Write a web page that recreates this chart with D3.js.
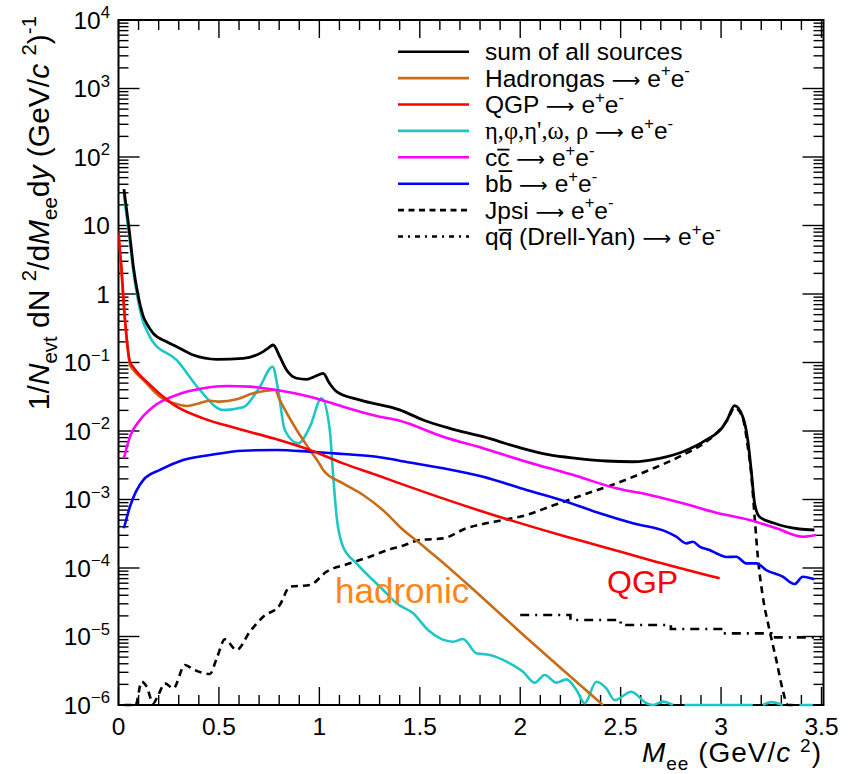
<!DOCTYPE html>
<html>
<head>
<meta charset="utf-8">
<script src="https://cdn.jsdelivr.net/npm/d3@7"></script>
<style>
  body { margin: 0; background: #fff; }
  svg { display: block; }
  text { font-family: "Liberation Sans", Arial, sans-serif; }
</style>
</head>
<body>
<svg id="chart" width="856" height="774"></svg>
<script>
// ---------- data (mass in GeV/c^2, yield per event) ----------
const sumMass = [0.027,0.057,0.074,0.099,0.124,0.14,0.173,0.24,0.29,0.372,0.489,0.621,0.72,0.745,0.77,0.803,0.837,0.887,0.936,0.98,1.019,1.05,1.086,1.2,1.4,1.517,1.649,1.815,1.981,2.147,2.28,2.429,2.561,2.694,2.81,2.926,3.009,3.034,3.067,3.108,3.133,3.15,3.167,3.191,3.258,3.39,3.465];
const sumVal  = [33.9,6.92,2.5,0.912,0.467,0.372,0.267,0.201,0.170,0.1285,0.1114,0.1151,0.1439,0.162,0.180,0.1216,0.0778,0.0589,0.0569,0.063,0.0695,0.050,0.0375,0.0284,0.0203,0.01449,0.01094,0.00826,0.0059,0.00447,0.00399,0.00365,0.00356,0.00399,0.00499,0.0074,0.01156,0.0153,0.0235,0.0162,0.0074,0.0027,0.000879,0.000561,0.000458,0.000371,0.000359];

const hadMass = [0.0,0.024,0.04,0.057,0.074,0.124,0.206,0.29,0.339,0.389,0.455,0.505,0.588,0.671,0.737,0.779,0.803,0.887,0.953,1.005,1.019,1.118,1.218,1.334,1.4,1.5,1.6,1.732,1.998,2.412];
const hadVal  = [7.6,0.871,0.229,0.0933,0.0778,0.0556,0.0317,0.0248,0.0232,0.0248,0.0277,0.0268,0.029,0.0355,0.0387,0.0397,0.0284,0.01035,0.00528,0.00316,0.0027,0.00172,0.001164,0.000628,0.000401,0.000229,0.000131,5.98e-5,1.175e-5,1.0e-6];

const qgpMass = [0.0,0.007,0.016,0.024,0.04,0.057,0.074,0.157,0.29,0.422,0.588,0.77,0.953,1.118,1.285,1.4,1.815,2.23,2.396,2.644,2.993];
const qgpVal  = [8.11,4.39,2.24,0.912,0.238,0.102,0.0851,0.047,0.02265,0.0153,0.01094,0.00782,0.00528,0.00337,0.00228,0.00172,0.000664,0.000286,0.00021,0.000131,7.06e-5];

// light-flavour cocktail (eta, phi, eta', omega, rho); null = nothing drawn
const lfMass = [0.027,0.057,0.074,0.099,0.124,0.14,0.165,0.29,0.405,0.52,0.621,0.704,0.767,0.795,0.828,0.895,0.953,1.011,1.052,1.065,1.086,1.118,1.185,1.318,1.384,1.467,1.541,1.666,1.715,1.782,1.848,1.948,2.014,2.072,2.122,2.18,2.23,2.28,2.321,2.379,2.429,2.47,2.553,2.628,2.66,2.71,2.76,2.79,2.818,3.158,3.19,3.208,3.25,3.307,3.35,3.39,3.457];
const lfVal   = [27.9,5.75,2.14,0.759,0.38,0.298,0.213,0.1086,0.0397,0.0203,0.0222,0.0444,0.0869,0.0397,0.01035,0.0066,0.01156,0.030,0.01035,0.00316,0.000562,0.000204,0.000117,4.78e-5,3.05e-5,2.18e-5,1.245e-5,8.4e-6,9.2e-6,5.7e-6,5.37e-6,4.06e-6,3.06e-6,2.12e-6,2.74e-6,2.12e-6,2.37e-6,1.66e-6,1.06e-6,2.19e-6,1.75e-6,1.18e-6,1.56e-6,1.06e-6,1.0e-6,1.12e-6,1.0e-6,null,1.0e-6,1.0e-6,null,1.0e-6,1.1e-6,1.0e-6,null,1.0e-6,1.0e-6];

const ccMass = [0.027,0.057,0.107,0.173,0.29,0.422,0.538,0.654,0.787,0.953,1.118,1.285,1.4,1.616,1.815,2.031,2.28,2.479,2.644,2.81,2.976,3.142,3.275,3.407,3.474];
const ccVal  = [0.00399,0.00826,0.01449,0.02265,0.0336,0.042,0.0454,0.0444,0.0397,0.0317,0.02265,0.01656,0.01413,0.00826,0.00558,0.00356,0.0022,0.001455,0.001164,0.000879,0.000641,0.000502,0.00038,0.000286,0.000303];

const bbMass = [0.027,0.057,0.124,0.206,0.322,0.455,0.621,0.787,0.953,1.118,1.285,1.4,1.616,1.815,2.031,2.23,2.396,2.561,2.727,2.777,2.827,2.86,2.893,2.943,2.976,3.026,3.076,3.125,3.175,3.225,3.307,3.366,3.407,3.465];
const bbVal  = [0.00038,0.000785,0.00193,0.0027,0.00378,0.00447,0.00516,0.00528,0.00499,0.00461,0.00422,0.00369,0.00285,0.00215,0.00138,0.000929,0.000628,0.000449,0.000339,0.000286,0.000229,0.000242,0.000205,0.000183,0.000164,0.000145,0.000146,0.000117,0.000117,9.33e-5,7.46e-5,5.83e-5,7.46e-5,6.84e-5];

const jpsiMass = [0.03,0.085,0.115,0.14,0.173,0.198,0.231,0.273,0.331,0.372,0.455,0.489,0.53,0.588,0.654,0.72,0.803,0.853,0.953,1.036,1.152,1.251,1.367,1.4,1.5,1.616,1.732,1.898,2.031,2.147,2.312,2.479,2.644,2.81,2.926,2.993,3.034,3.067,3.108,3.133,3.15,3.167,3.183,3.208,3.241,3.275,3.307,3.332,3.36];
const jpsiVal  = [8e-7,9e-7,2.19e-6,1.85e-6,1.06e-6,1.4e-6,2.07e-6,1.75e-6,3.84e-6,3.32e-6,2.84e-6,4.81e-6,9.1e-6,6.35e-6,1.175e-5,1.945e-5,2.88e-5,5.33e-5,5.65e-5,8.83e-5,0.000117,0.000146,0.000194,0.000205,0.000256,0.000271,0.00038,0.000491,0.000594,0.000785,0.001164,0.00172,0.0027,0.00447,0.00698,0.01035,0.0148,0.0219,0.0155,0.0059,0.00241,0.000561,0.000146,3.81e-5,1.245e-5,4.54e-6,1.66e-6,1.0e-6,5e-7];

// Drell-Yan histogram: bin edges and contents
const dyEdges = [2.0,2.25,2.5,2.75,3.0,3.25,3.5];
const dyVal   = [2.06e-5,1.74e-5,1.47e-5,1.29e-5,1.11e-5,9.7e-6];

const xTickLabels = ["0","0.5","1","1.5","2","2.5","3","3.5"];
const yDecades = [-6,-5,-4,-3,-2,-1,0,1,2,3,4];

// ---------- layout ----------
const svg = d3.select("#chart");
const L = 118.5, R = 823.5, T = 20, B = 705;
const x = d3.scaleLinear().domain([0, 3.51]).range([L, R]);
const y = d3.scaleLog().domain([1e-6, 1e4]).range([B, T]).clamp(true);

const FS = 24.5;

// frame
svg.append("rect").attr("x", L).attr("y", T).attr("width", R - L).attr("height", B - T)
  .attr("fill", "none").attr("stroke", "#000").attr("stroke-width", 2);

// ticks on all four sides, pointing inwards
const tk = svg.append("g").attr("stroke", "#000").attr("stroke-width", 1.4);
d3.range(0, 36).forEach(i => {
  const v = i / 10, major = i % 5 === 0, len = major ? 18 : 10, px = x(v);
  tk.append("line").attr("x1", px).attr("x2", px).attr("y1", B).attr("y2", B - len);
  tk.append("line").attr("x1", px).attr("x2", px).attr("y1", T).attr("y2", T + len);
});
yDecades.forEach(d => {
  for (let k = 1; k <= 9; k++) {
    const v = k * Math.pow(10, d);
    if (v > 1e4 * 1.0001) continue;
    const len = k === 1 ? 21 : 10, py = y(v);
    tk.append("line").attr("x1", L).attr("x2", L + len).attr("y1", py).attr("y2", py);
    tk.append("line").attr("x1", R).attr("x2", R - len).attr("y1", py).attr("y2", py);
  }
});

// rich text helper: parts with sup/sub/italic/serif/arrow/overline
function rich(sel, parts, fs, supRaise = 0.42) {
  let shift = 0;
  const overs = [];
  parts.forEach(p => {
    const target = p.sup ? -supRaise * fs : (p.sub ? 0.28 * fs : 0);
    const size = (p.sup || p.sub) ? fs * 0.68 : (p.arrow ? fs * 0.82 : fs);
    const ts = sel.append("tspan").text(p.t)
      .attr("dy", target - shift)
      .attr("font-size", size);
    if (p.it) ts.attr("font-style", "italic");
    if (p.serif) ts.attr("font-family", "'Liberation Serif', 'Times New Roman', serif");
    if (p.arrow) ts.attr("font-family", "'DejaVu Sans', sans-serif");
    shift = target;
    if (p.over) overs.push([ts, p.over]);
  });
  return overs;
}

// x tick labels
xTickLabels.forEach(s => {
  svg.append("text").attr("x", x(+s)).attr("y", 735).attr("text-anchor", "middle")
    .attr("font-size", FS).text(s);
});

// y tick labels
yDecades.forEach(d => {
  const t = svg.append("text").attr("x", 110).attr("y", y(Math.pow(10, d)) + 8.5)
    .attr("text-anchor", "end").attr("font-size", FS);
  if (d === 0) t.text("1");
  else if (d === 1) t.text("10");
  else rich(t, [{ t: "10" }, { t: (d < 0 ? "\u2212" : "") + Math.abs(d), sup: true }], FS);
});

// axis titles
const xt = svg.append("text").attr("x", 822).attr("y", 762).attr("text-anchor", "end")
  .attr("letter-spacing", 1);
rich(xt, [{ t: "M", it: true }, { t: "ee", sub: true }, { t: " (GeV/" }, { t: "c", it: true }, { t: " " }, { t: "2", sup: true }, { t: ")" }], 28, 0.36);

const yt = svg.append("text").attr("transform", "rotate(-90)")
  .attr("x", -16).attr("y", 49).attr("text-anchor", "end");
rich(yt, [{ t: "1/" }, { t: "N", it: true }, { t: "evt", sub: true }, { t: " dN " }, { t: "2", sup: true },
  { t: "/d" }, { t: "M", it: true }, { t: "ee", sub: true }, { t: "d" }, { t: "y", it: true },
  { t: " (GeV/" }, { t: "c", it: true }, { t: " " }, { t: "2", sup: true }, { t: ")" }, { t: "-1", sup: true }], 30);

// curves
svg.append("clipPath").attr("id", "plotClip").append("rect")
  .attr("x", L).attr("y", T).attr("width", R - L).attr("height", B - T + 2);
const plot = svg.append("g").attr("clip-path", "url(#plotClip)");

const line = d3.line()
  .defined(d => d[1] != null)
  .x(d => x(d[0])).y(d => y(d[1]))
  .curve(d3.curveMonotoneX);

const COLORS = { had: "#c86c18", qgp: "#ff0000", lf: "#1fc6c6", cc: "#ff00ff", bb: "#0000ff", sum: "#000000" };

function drawCurve(mass, vals, color, width, dash) {
  const p = plot.append("path").datum(mass.map((m, i) => [m, vals[i]]))
    .attr("d", line).attr("fill", "none").attr("stroke", color)
    .attr("stroke-width", width).attr("stroke-linejoin", "round");
  if (dash) p.attr("stroke-dasharray", dash);
}

drawCurve(jpsiMass, jpsiVal, "#000", 2.6, "7,5");
// Drell-Yan as a step histogram
plot.append("path")
  .datum(dyEdges.map((e, i) => [e, dyVal[Math.min(i, dyVal.length - 1)]]))
  .attr("d", d3.line().x(d => x(d[0])).y(d => y(d[1])).curve(d3.curveStepAfter))
  .attr("fill", "none").attr("stroke", "#000").attr("stroke-width", 2.6)
  .attr("stroke-dasharray", "9,6,2,6");
drawCurve(lfMass, lfVal, COLORS.lf, 2.6);
drawCurve(hadMass, hadVal, COLORS.had, 2.6);
drawCurve(bbMass, bbVal, COLORS.bb, 2.6);
drawCurve(ccMass, ccVal, COLORS.cc, 2.6);
drawCurve(qgpMass, qgpVal, COLORS.qgp, 2.6);
drawCurve(sumMass, sumVal, COLORS.sum, 2.8);

// annotations
svg.append("text").attr("x", 335).attr("y", 603).attr("font-family", "Lato, 'Open Sans', sans-serif")
  .attr("font-size", 35).attr("fill", "#ff8616").text("hadronic");
svg.append("text").attr("x", 607).attr("y", 593).attr("font-family", "Lato, 'Open Sans', sans-serif")
  .attr("font-size", 32).attr("fill", "#ff0000").text("QGP");

// legend
const ee = [{ t: " " }, { t: "\u27f6", arrow: true }, { t: " e" }, { t: "+", sup: true }, { t: "e" }, { t: "-", sup: true }];
const legendRows = [
  { parts: [{ t: "sum of all sources" }], color: COLORS.sum },
  { parts: [{ t: "Hadrongas" }, ...ee], color: COLORS.had },
  { parts: [{ t: "QGP" }, ...ee], color: COLORS.qgp },
  { parts: [{ t: "\u03b7,\u03c6,\u03b7',\u03c9, \u03c1", serif: true }, ...ee], color: COLORS.lf },
  { parts: [{ t: "c" }, { t: "c", over: 0.66 }, ...ee], color: COLORS.cc },
  { parts: [{ t: "b" }, { t: "b", over: 0.86 }, ...ee], color: COLORS.bb },
  { parts: [{ t: "Jpsi" }, ...ee], color: "#000", dash: "6,4.5" },
  { parts: [{ t: "q" }, { t: "q", over: 0.62 }, { t: " (Drell-Yan)" }, ...ee], color: "#000", dash: "5,5,2,5" }
];
const LFS = 24.5;
legendRows.forEach((r, i) => {
  const cy = 51.7 + i * 26.4;
  const ln = svg.append("line").attr("x1", 398).attr("x2", 469).attr("y1", cy).attr("y2", cy)
    .attr("stroke", r.color).attr("stroke-width", 2.6);
  if (r.dash) ln.attr("stroke-dasharray", r.dash);
  const base = cy + 8.5;
  const t = svg.append("text").attr("x", 485).attr("y", base);
  const overs = rich(t, r.parts, LFS);
  overs.forEach(([ts, h]) => {
    const node = ts.node();
    const x0 = node.getStartPositionOfChar(0).x;
    const x1 = node.getEndPositionOfChar(node.getNumberOfChars() - 1).x;
    svg.append("line").attr("x1", x0).attr("x2", x1)
      .attr("y1", base - h * LFS).attr("y2", base - h * LFS)
      .attr("stroke", "#000").attr("stroke-width", 1.8);
  });
});
</script>
</body>
</html>
